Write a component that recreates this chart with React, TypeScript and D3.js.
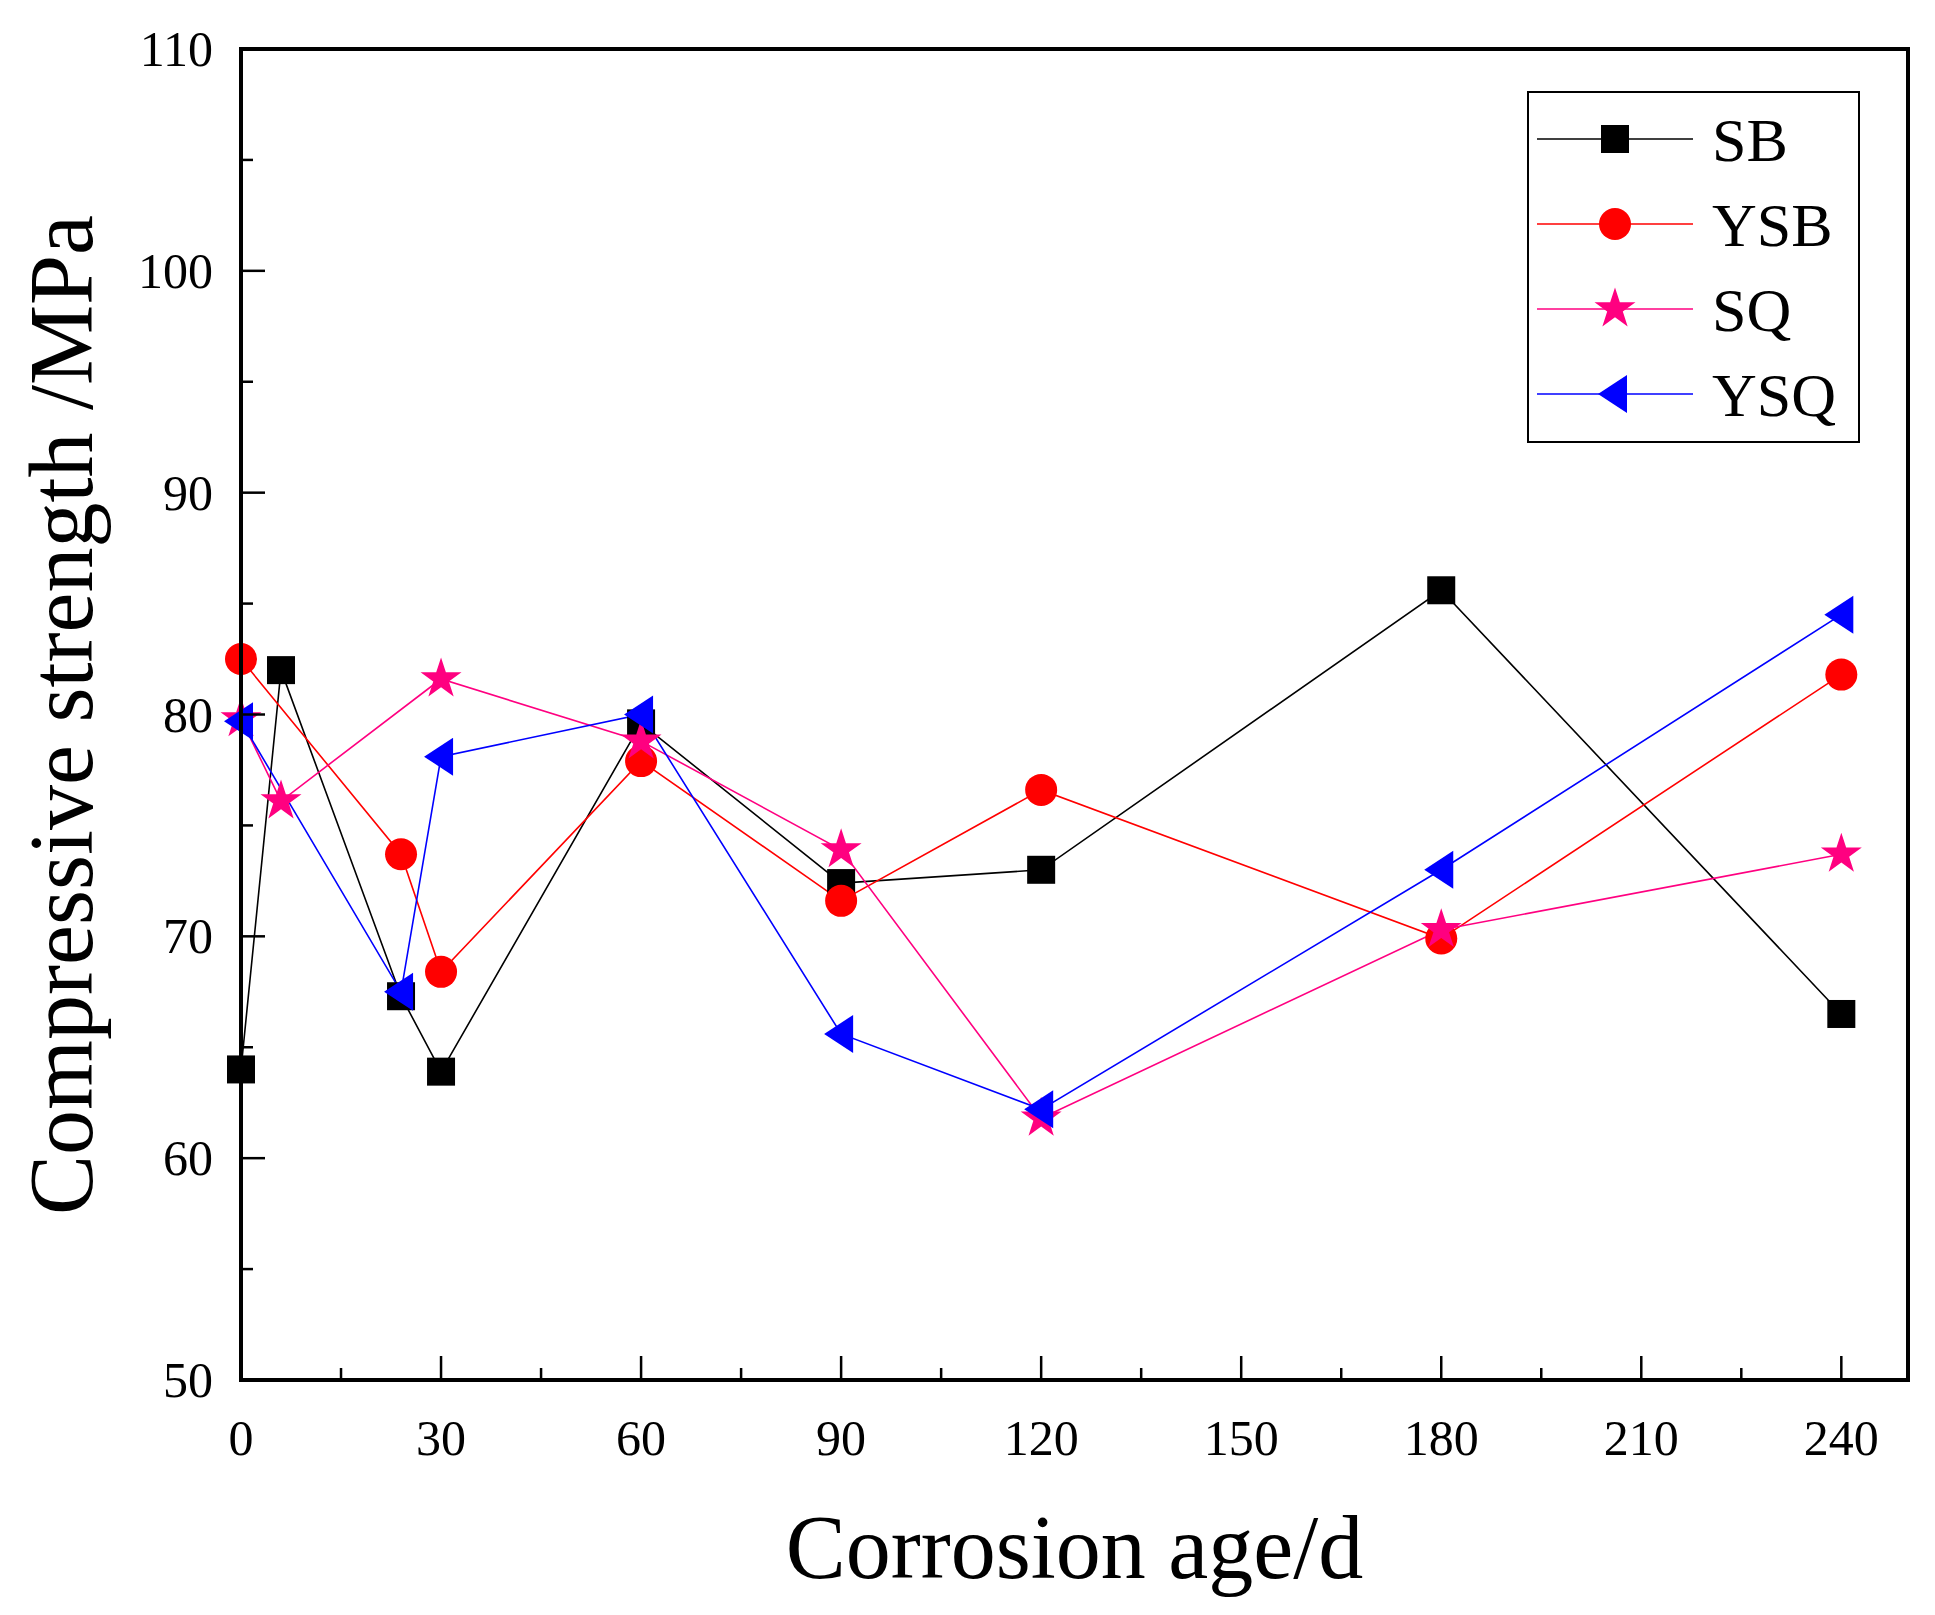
import React from "react";
import * as d3 from "d3";

const xTicks = [0, 30, 60, 90, 120, 150, 180, 210, 240];
const yTicks = [50, 60, 70, 80, 90, 100, 110];
const sbX = [0, 6, 24, 30, 60, 90, 120, 180, 240];
const sbY = [64, 82, 67.3, 63.9, 79.6, 72.4, 73, 85.6, 66.5];
const ysbX = [0, 24, 30, 60, 90, 120, 180, 240];
const ysbY = [82.5, 73.7, 68.4, 77.9, 71.6, 76.6, 69.9, 81.8];
const sqX = [0, 6, 30, 60, 90, 120, 180, 240];
const sqY = [79.8, 76.1, 81.6, 78.8, 73.9, 61.8, 70.3, 73.7];
const ysqX = [0, 24, 30, 60, 90, 120, 180, 240];
const ysqY = [79.7, 67.5, 78.1, 80, 65.6, 62.2, 73, 84.5];

const L = 241, R = 1908, T = 49, B = 1380;
const x = d3.scaleLinear().domain([0, 250]).range([L, R]);
const y = d3.scaleLinear().domain([50, 110]).range([B, T]);
const font = "'Liberation Serif', 'Times New Roman', serif";

const series = [
  { name: "SB", xs: sbX, ys: sbY, color: "#000000", marker: "square" },
  { name: "YSB", xs: ysbX, ys: ysbY, color: "#ff0000", marker: "circle" },
  { name: "SQ", xs: sqX, ys: sqY, color: "#ff0080", marker: "star" },
  { name: "YSQ", xs: ysqX, ys: ysqY, color: "#0000ff", marker: "tri" },
];

function Marker({ kind, cx, cy, color }: { kind: string; cx: number; cy: number; color: string }) {
  if (kind === "square") return <rect x={cx - 14} y={cy - 14} width={28} height={28} fill={color} />;
  if (kind === "circle") return <circle cx={cx} cy={cy} r={16} fill={color} />;
  if (kind === "star") {
    const p = d3.symbol().type(d3.symbolStar).size(520)();
    return <path d={p || ""} transform={`translate(${cx},${cy})`} fill={color} />;
  }
  return <path d={`M${cx - 17},${cy} L${cx + 12},${cy - 19} L${cx + 12},${cy + 19} Z`} fill={color} />;
}

export default function App() {
  const line = d3.line<[number, number]>().x((d) => x(d[0])).y((d) => y(d[1]));
  const minorX = d3.range(15, 250, 30);
  const minorY = d3.range(55, 110, 10);
  return (
    <svg width={1935} height={1615} style={{ display: "block", position: "absolute", left: 0, top: 0, background: "#fff" }}>
      <rect width={1935} height={1615} fill="#fff" />
      {series.map((s) => (
        <path key={s.name} d={line(s.xs.map((v, i) => [v, s.ys[i]] as [number, number])) || ""} fill="none" stroke={s.color} strokeWidth={1.6} />
      ))}
      {series.map((s) =>
        s.xs.map((v, i) => <Marker key={s.name + i} kind={s.marker} cx={x(v)} cy={y(s.ys[i])} color={s.color} />)
      )}
      <rect x={L} y={T} width={R - L} height={B - T} fill="none" stroke="#000" strokeWidth={4} />
      {xTicks.map((t) => (
        <g key={"x" + t}>
          <line x1={x(t)} x2={x(t)} y1={B} y2={B - 24} stroke="#000" strokeWidth={2.5} />
          <text x={x(t)} y={1455} fontSize={50} fontFamily={font} textAnchor="middle">{t}</text>
        </g>
      ))}
      {minorX.map((t) => (
        <line key={"mx" + t} x1={x(t)} x2={x(t)} y1={B} y2={B - 12} stroke="#000" strokeWidth={2.5} />
      ))}
      {yTicks.map((t) => (
        <g key={"y" + t}>
          <line x1={L} x2={L + 24} y1={y(t)} y2={y(t)} stroke="#000" strokeWidth={2.5} />
          <text x={213} y={y(t) + 17} fontSize={50} fontFamily={font} textAnchor="end">{t}</text>
        </g>
      ))}
      {minorY.map((t) => (
        <line key={"my" + t} x1={L} x2={L + 12} y1={y(t)} y2={y(t)} stroke="#000" strokeWidth={2.5} />
      ))}
      <text x={(L + R) / 2} y={1578} fontSize={90} fontFamily={font} textAnchor="middle">Corrosion age/d</text>
      <text transform="translate(92,715) rotate(-90)" fontSize={90} fontFamily={font} textAnchor="middle">Compressive strength /MPa</text>
      <rect x={1528} y={92} width={331} height={350} fill="#fff" stroke="#000" strokeWidth={2} />
      {series.map((s, i) => {
        const cy = 139 + i * 85;
        return (
          <g key={"lg" + s.name}>
            <line x1={1537} x2={1693} y1={cy} y2={cy} stroke={s.color} strokeWidth={1.6} />
            <Marker kind={s.marker} cx={1615} cy={cy} color={s.color} />
            <text x={1712} y={cy + 22} fontSize={62} fontFamily={font}>{s.name}</text>
          </g>
        );
      })}
    </svg>
  );
}
